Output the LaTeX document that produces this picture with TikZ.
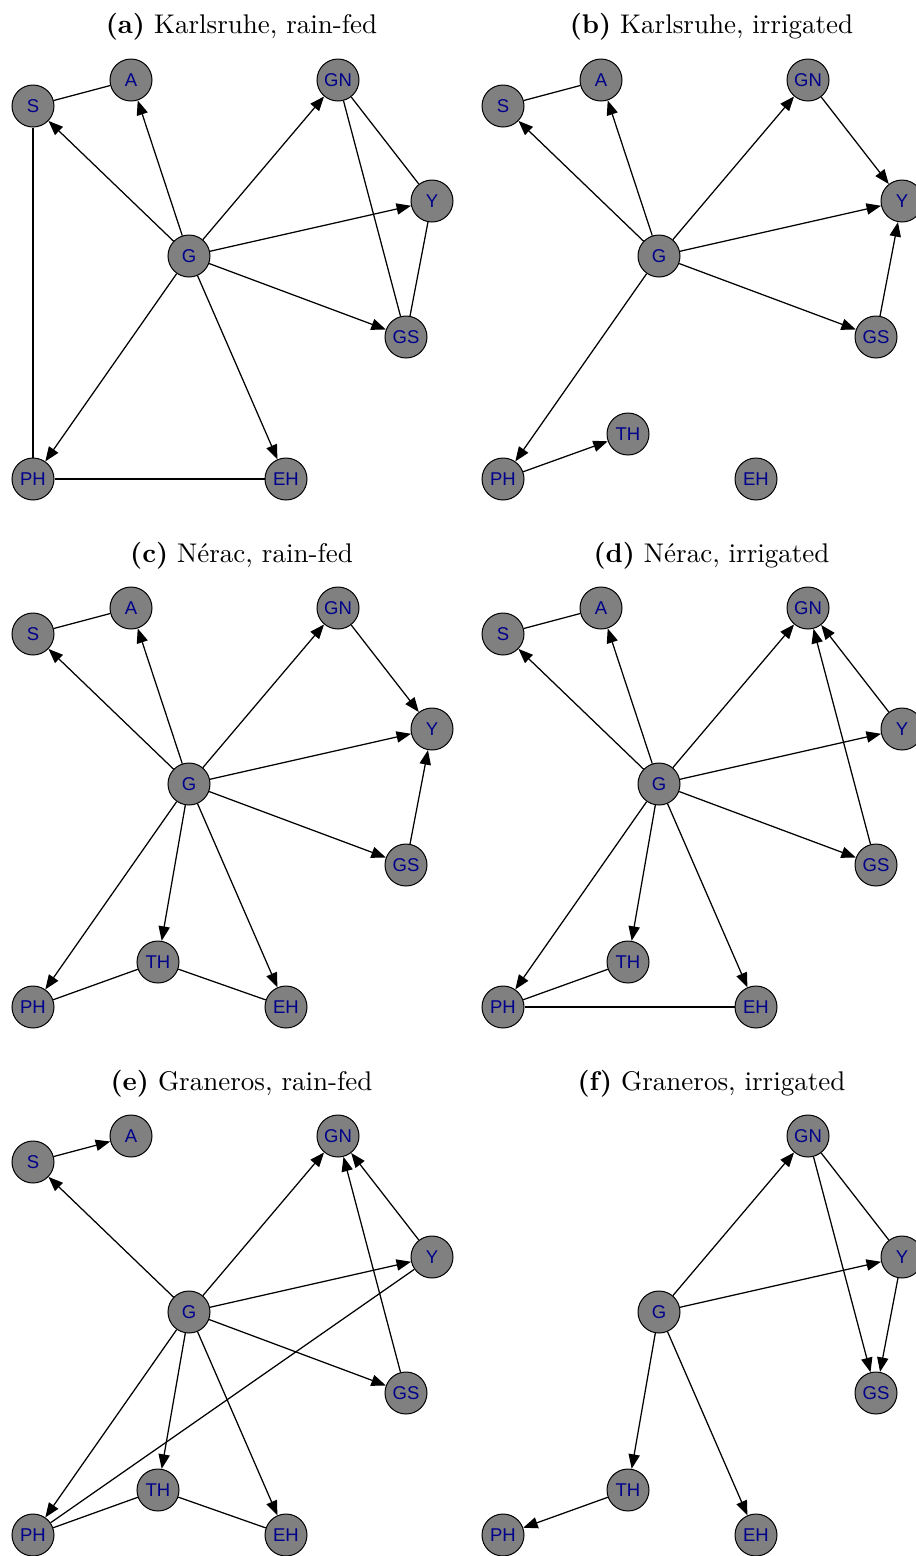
\documentclass[tikz,border=0pt]{standalone}
\usepackage{fontspec}
\newfontfamily\nodefont{Liberation Sans}
\usetikzlibrary{arrows.meta}
\definecolor{nodeblue}{RGB}{0,0,139}
\definecolor{nodegray}{RGB}{128,128,128}
\begin{document}
\begin{tikzpicture}[x=0.4pt,y=-0.4pt,
  vn/.style={circle,draw=black,line width=0.4pt,fill=nodegray,minimum size=16.8pt,inner sep=0pt,
    font=\nodefont\fontsize{7.4}{8}\selectfont,text=nodeblue},
  ed/.style={line width=0.5pt},
  ar/.style={line width=0.5pt,-{Triangle[length=5.8pt,width=4.5pt]}},
  ttl/.style={font=\fontsize{10.8}{13}\selectfont}]
\useasboundingbox (0,0) rectangle (915,1556);
% ---------- (a)
\node[ttl] (ta) at (241.5,27) {\textbf{(a)} Karlsruhe, rain-fed};
\foreach \n/\x/\y in {S/33/106,A/131/80,GN/338/80,Y/432/201,G/189/256,GS/406/337,PH/33/479,EH/286/479}
  \node[vn] (a\n) at (\x,\y) {\n};
\draw[ed] (aS) -- (aA);
\draw[ar] (aG) -- (aS);
\draw[ar] (aG) -- (aA);
\draw[ar] (aG) -- (aGN);
\draw[ar] (aG) -- (aY);
\draw[ar] (aG) -- (aGS);
\draw[ar] (aG) -- (aPH);
\draw[ar] (aG) -- (aEH);
\draw[ed] (aGN) -- (aY);
\draw[ed] (aGN) -- (aGS);
\draw[ed] (aY) -- (aGS);
\draw[ed] (aS) -- (aPH);
\draw[ed] (aPH) -- (aEH);
% ---------- (b)
\begin{scope}[shift={(470,0)}]
\node[ttl] (tb) at (241.5,27) {\textbf{(b)} Karlsruhe, irrigated};
\foreach \n/\x/\y in {S/33/106,A/131/80,GN/338/80,Y/432/201,G/189/256,GS/406/337,TH/158/434,PH/33/479,EH/286/479}
  \node[vn] (b\n) at (\x,\y) {\n};
\draw[ed] (bS) -- (bA);
\draw[ar] (bG) -- (bS);
\draw[ar] (bG) -- (bA);
\draw[ar] (bG) -- (bGN);
\draw[ar] (bG) -- (bY);
\draw[ar] (bG) -- (bGS);
\draw[ar] (bG) -- (bPH);
\draw[ar] (bGN) -- (bY);
\draw[ar] (bGS) -- (bY);
\draw[ar] (bPH) -- (bTH);
\end{scope}
% ---------- (c)
\begin{scope}[shift={(0,528)}]
\node[ttl] (tc) at (241.5,27.5) {\textbf{(c)} Nérac, rain-fed};
\foreach \n/\x/\y in {S/33/106,A/131/80,GN/338/80,Y/432/201,G/189/256,GS/406/337,TH/158/434,PH/33/479,EH/286/479}
  \node[vn] (c\n) at (\x,\y) {\n};
\draw[ed] (cS) -- (cA);
\draw[ar] (cG) -- (cS);
\draw[ar] (cG) -- (cA);
\draw[ar] (cG) -- (cGN);
\draw[ar] (cG) -- (cY);
\draw[ar] (cG) -- (cGS);
\draw[ar] (cG) -- (cTH);
\draw[ar] (cG) -- (cPH);
\draw[ar] (cG) -- (cEH);
\draw[ar] (cGN) -- (cY);
\draw[ar] (cGS) -- (cY);
\draw[ed] (cPH) -- (cTH);
\draw[ed] (cTH) -- (cEH);
\end{scope}
% ---------- (d)
\begin{scope}[shift={(470,528)}]
\node[ttl] (td) at (241.5,27.5) {\textbf{(d)} Nérac, irrigated};
\foreach \n/\x/\y in {S/33/106,A/131/80,GN/338/80,Y/432/201,G/189/256,GS/406/337,TH/158/434,PH/33/479,EH/286/479}
  \node[vn] (d\n) at (\x,\y) {\n};
\draw[ed] (dS) -- (dA);
\draw[ar] (dG) -- (dS);
\draw[ar] (dG) -- (dA);
\draw[ar] (dG) -- (dGN);
\draw[ar] (dG) -- (dY);
\draw[ar] (dG) -- (dGS);
\draw[ar] (dG) -- (dTH);
\draw[ar] (dG) -- (dPH);
\draw[ar] (dG) -- (dEH);
\draw[ar] (dY) -- (dGN);
\draw[ar] (dGS) -- (dGN);
\draw[ed] (dPH) -- (dTH);
\draw[ed] (dPH) -- (dEH);
\end{scope}
% ---------- (e)
\begin{scope}[shift={(0,1056)}]
\node[ttl] (te) at (241.5,28) {\textbf{(e)} Graneros, rain-fed};
\foreach \n/\x/\y in {S/33/106,A/131/80,GN/338/80,Y/432/201,G/189/256,GS/406/337,TH/158/434,PH/33/479,EH/286/479}
  \node[vn] (e\n) at (\x,\y) {\n};
\draw[ar] (eS) -- (eA);
\draw[ar] (eG) -- (eS);
\draw[ar] (eG) -- (eGN);
\draw[ar] (eG) -- (eY);
\draw[ar] (eG) -- (eGS);
\draw[ar] (eG) -- (eTH);
\draw[ar] (eG) -- (ePH);
\draw[ar] (eG) -- (eEH);
\draw[ar] (eY) -- (eGN);
\draw[ar] (eGS) -- (eGN);
\draw[ed] (eY) -- (ePH);
\draw[ed] (ePH) -- (eTH);
\draw[ed] (eTH) -- (eEH);
\end{scope}
% ---------- (f)
\begin{scope}[shift={(470,1056)}]
\node[ttl] (tf) at (241.5,28) {\textbf{(f)} Graneros, irrigated};
\foreach \n/\x/\y in {GN/338/80,Y/432/201,G/189/256,GS/406/337,TH/158/434,PH/33/479,EH/286/479}
  \node[vn] (f\n) at (\x,\y) {\n};
\draw[ar] (fG) -- (fGN);
\draw[ar] (fG) -- (fY);
\draw[ar] (fG) -- (fTH);
\draw[ar] (fG) -- (fEH);
\draw[ed] (fGN) -- (fY);
\draw[ar] (fGN) -- (fGS);
\draw[ar] (fY) -- (fGS);
\draw[ar] (fTH) -- (fPH);
\end{scope}
\end{tikzpicture}
\end{document}
